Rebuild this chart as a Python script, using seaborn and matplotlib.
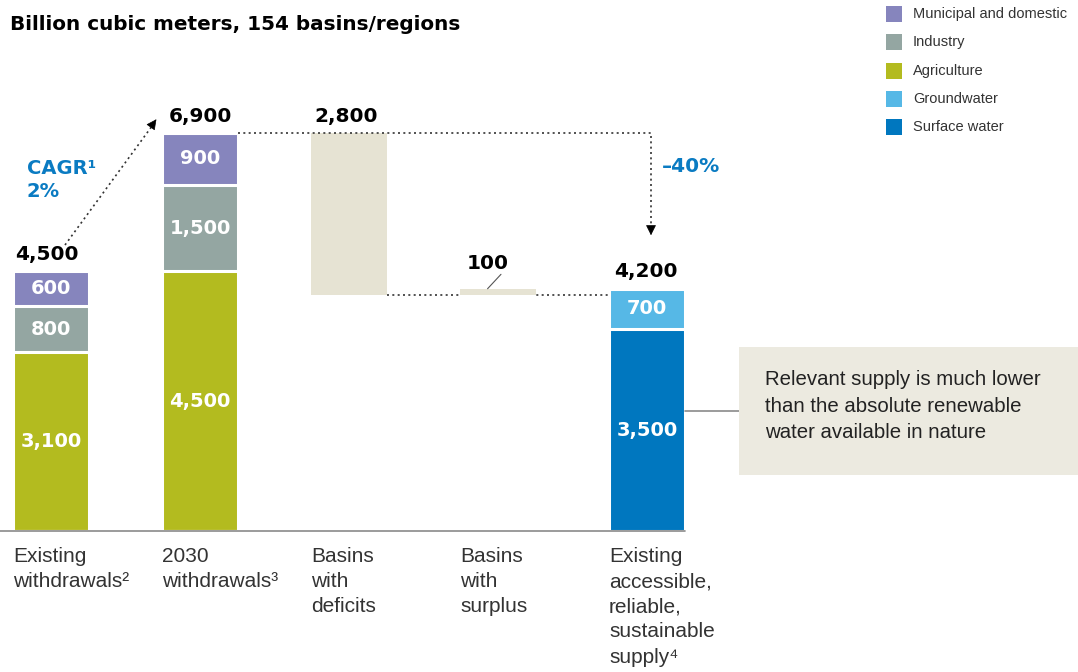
import numpy as np
import pandas as pd
import matplotlib.pyplot as plt
import seaborn as sns
from matplotlib.patches import Rectangle

sns.set_theme(style="white")
plt.rcParams['font.family'] = ['Liberation Sans', 'DejaVu Sans']

# data (billion cubic meters)
categories = ["Existing withdrawals", "2030 withdrawals", "Basins with deficits",
              "Basins with surplus", "Existing supply"]
tick_labels = ["Existing\nwithdrawals\u00b2", "2030\nwithdrawals\u00b3", "Basins\nwith\ndeficits",
               "Basins\nwith\nsurplus", "Existing\naccessible,\nreliable,\nsustainable\nsupply\u2074"]
municipal = [600, 900, 0, 0, 0]
industry = [800, 1500, 0, 0, 0]
agriculture = [3100, 4500, 0, 0, 0]
groundwater = [0, 0, 0, 0, 700]
surface = [0, 0, 0, 0, 3500]
deficit = 2800
surplus = 100

legend_labels = ["Municipal and domestic", "Industry", "Agriculture", "Groundwater", "Surface water"]
colors = {"Municipal and domestic": "#8685bd", "Industry": "#94a6a2", "Agriculture": "#b3bb1f",
          "Groundwater": "#56b8e6", "Surface water": "#0077bf"}
beige = "#e6e3d3"
blue_txt = "#0a7bc2"

W, H = 1078, 672
fig = plt.figure(figsize=(W / 100, H / 100), dpi=100)
base_px, top_px = 531, 133
ax = fig.add_axes([0, (H - base_px) / H, 1, base_px / H])

totals_w = [m + i + a for m, i, a in zip(municipal, industry, agriculture)]
total_2030 = totals_w[1]
supply_total = groundwater[4] + surface[4]
floor = total_2030 - deficit  # bottom of deficit bar

# layered (cumulative) bars, drawn tallest first; (values, colour, white edge width)
layers = [
    ([totals_w[0], totals_w[1], 0, 0, 0], colors["Municipal and domestic"], 2.2),
    ([industry[0] + agriculture[0], industry[1] + agriculture[1], 0, 0, 0], colors["Industry"], 2.2),
    (agriculture, colors["Agriculture"], 2.2),
    ([0, 0, 0, 0, supply_total], colors["Groundwater"], 2.2),
    (surface, colors["Surface water"], 2.2),
    ([0, 0, total_2030, floor + surplus, 0], beige, 0),
    ([0, 0, floor, floor, 0], "white", 0),
]
for vals, col, lw in layers:
    df = pd.DataFrame({"cat": categories, "val": vals})
    sns.barplot(data=df, x="cat", y="val", color=col, saturation=1, width=0.51,
                edgecolor="white", linewidth=lw, ax=ax, order=categories)

px_per_unit = (base_px - top_px) / total_2030
ax.set_ylim(0, base_px / px_per_unit)
ax.set_xlim(-51 / 149, (W - 51) / 149)
ax.axis("off")


def py(ypx):
    return (base_px - ypx) / px_per_unit


def pxx(xpx):
    return (xpx - 51) / 149


# baseline
ax.plot([pxx(0), 4 + 0.255], [0, 0], color="#8a8a8a", lw=1.2, clip_on=False, zorder=5)

# inner segment labels
lab_kw = dict(ha="center", va="center", color="white", fontsize=14, fontweight="bold",
              family="DejaVu Sans")
for i in range(2):
    a, ind, m = agriculture[i], industry[i], municipal[i]
    ax.text(i, a / 2, f"{a:,}", **lab_kw)
    ax.text(i, a + ind / 2, f"{ind:,}", **lab_kw)
    ax.text(i, a + ind + m / 2, f"{m:,}", **lab_kw)
ax.text(4, surface[4] / 2, f"{surface[4]:,}", **lab_kw)
ax.text(4, surface[4] + groundwater[4] / 2, f"{groundwater[4]:,}", **lab_kw)

# totals
tot_kw = dict(ha="center", va="bottom", color="black", fontsize=14.5, fontweight="bold",
              family="DejaVu Sans")
ax.text(-0.03, totals_w[0] + 130, f"{totals_w[0]:,}", **tot_kw)
ax.text(1, total_2030 + 130, f"{total_2030:,}", **tot_kw)
ax.text(2 - 0.02, total_2030 + 130, f"{deficit:,}", **tot_kw)
ax.text(3 - 0.07, floor + surplus + 280, f"{surplus:,}", **tot_kw)
ax.text(4 - 0.01, supply_total + 130, f"{supply_total:,}", **tot_kw)
ax.plot([3 - 0.07, 3 + 0.02], [floor + surplus, floor + surplus + 250], color="#555555", lw=0.8)

# dotted connectors
dot = dict(color="#333333", lw=1.2, linestyle=(0, (1.2, 2)))
ax.plot([pxx(65), pxx(155)], [py(245), py(122)], **dot)
ax.annotate("", xy=(pxx(158), py(117)), xytext=(pxx(153), py(124)),
            arrowprops=dict(arrowstyle="-|>", color="black", lw=0.5, mutation_scale=16))
ax.plot([1 + 0.255, pxx(651), pxx(651)], [total_2030, total_2030, py(232)], **dot)
ax.annotate("", xy=(pxx(651), py(238)), xytext=(pxx(651), py(228)),
            arrowprops=dict(arrowstyle="-|>", color="black", lw=0.5, mutation_scale=16))
ax.plot([2 + 0.255, 4 - 0.255], [floor, floor], zorder=0, **dot)

# growth / gap notes
ax.text(pxx(27), py(180), "CAGR\u00b9\n2%", ha="left", va="center", color=blue_txt,
        fontsize=14, fontweight="bold", family="DejaVu Sans", linespacing=1.25)
ax.text(pxx(662), py(167), "\u201340%", ha="left", va="center", color=blue_txt,
        fontsize=14.5, fontweight="bold", family="DejaVu Sans")

# category labels
for i, lab in enumerate(tick_labels):
    ax.text(i - 0.255, py(547), lab, ha="left", va="top", color="#333333",
            fontsize=15, linespacing=1.41, clip_on=False)

# title
fig.text(10 / W, 1 - 24 / H, "Billion cubic meters, 154 basins/regions", ha="left",
         va="center", fontsize=14.4, fontweight="bold", family="DejaVu Sans", color="black")

# legend
for k, lab in enumerate(legend_labels):
    yc = 14 + k * 28.3
    fig.add_artist(Rectangle((886 / W, 1 - (yc + 8) / H), 16 / W, 16 / H,
                             transform=fig.transFigure, color=colors[lab], lw=0))
    fig.text(913 / W, 1 - yc / H, lab, ha="left", va="center", fontsize=10.5, color="#333333")

# callout box
fig.add_artist(Rectangle((739 / W, 1 - 475 / H), (W - 739) / W, 128 / H,
                         transform=fig.transFigure, color="#eceae0", lw=0))
ax.plot([4 + 0.255, pxx(739)], [py(411), py(411)], color="#8a8a8a", lw=1.2, clip_on=False)
fig.text(765 / W, 1 - 406 / H,
         "Relevant supply is much lower\nthan the absolute renewable\nwater available in nature",
         ha="left", va="center", fontsize=14.7, linespacing=1.5, color="#222222")

fig.savefig("out.png", dpi=100)
